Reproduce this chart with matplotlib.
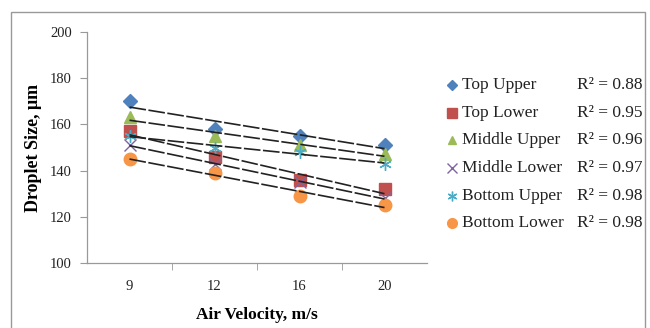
import numpy as np
import matplotlib
matplotlib.use("Agg")
import matplotlib.pyplot as plt
from matplotlib.patches import Rectangle

categories = ["9", "12", "16", "20"]
series_names = ["Top Upper", "Top Lower", "Middle Upper", "Middle Lower", "Bottom Upper", "Bottom Lower"]
top_upper = [170, 158, 155, 151]
top_lower = [157, 146, 136, 132]
middle_upper = [163, 155, 151, 147]
middle_lower = [151, 143, 135, 128]
bottom_upper = [155, 150, 148, 143]
bottom_lower = [145, 139, 129, 125]
r2_labels = ["R² = 0.88", "R² = 0.95", "R² = 0.96", "R² = 0.97", "R² = 0.98", "R² = 0.98"]

series = [top_upper, top_lower, middle_upper, middle_lower, bottom_upper, bottom_lower]
colors = ["#4F81BD", "#C0504D", "#9BBB59", "#8064A2", "#4BACC6", "#F79646"]
markers = ["D", "s", "^", "x", (6, 2, 0), "o"]
msizes = [7, 9, 8, 9, 9, 9]
leg_sizes = [5, 7, 6, 7, 7, 7]

plt.rcParams['font.family'] = ['Liberation Serif', 'DejaVu Serif']

W, H = 650, 328
fig = plt.figure(figsize=(W/100, H/100), dpi=100)
ax = fig.add_axes([87/W, 1-263/H, (427-87)/W, (263-32)/H])

x = np.arange(1, len(categories)+1)
for vals, c, m, ms in zip(series, colors, markers, msizes):
    ax.plot(x, vals, linestyle='none', marker=m, color=c, markersize=ms,
            markeredgecolor=c, markeredgewidth=1.0, zorder=3)
    k, b = np.polyfit(x, vals, 1)
    ax.plot([x[0], x[-1]], [k*x[0]+b, k*x[-1]+b], color='#222222', lw=1.2,
            linestyle=(0, (10, 1.5)), zorder=4)

ax.set_xlim(0.5, 4.5)
ax.set_ylim(100, 200)
ax.set_yticks(range(100, 201, 20))
ax.set_xticks(x)
ax.set_xticklabels(categories)
ax.set_xticks([1.5, 2.5, 3.5], minor=True)
ax.tick_params(axis='x', which='major', length=0, labelsize=10.5, pad=12, labelcolor='#222222')
ax.tick_params(axis='x', which='minor', length=5, color='#999999', direction='out')
ax.tick_params(axis='y', length=5, color='#999999', labelsize=10.5, labelcolor='#222222', pad=6)
for s in ['top', 'right']:
    ax.spines[s].set_visible(False)
for s in ['left', 'bottom']:
    ax.spines[s].set_color('#999999')
    ax.spines[s].set_linewidth(0.9)

ax.set_ylabel("Droplet Size, μm", fontsize=13, fontweight='bold', labelpad=6)
ax.set_xlabel("Air Velocity, m/s", fontsize=12.5, fontweight='bold', labelpad=10)

# legend drawn row by row
rows_y = [85, 113, 140, 168, 196, 223]
for yy, name, c, m, ls, t in zip(rows_y, series_names, colors, markers, leg_sizes, r2_labels):
    fy = 1 - yy/H
    fig.add_artist(plt.Line2D([452/W], [fy], transform=fig.transFigure, linestyle='none',
                              marker=m, color=c, markersize=ls, markeredgecolor=c, markeredgewidth=1.0))
    fig.text(462/W, fy, name, fontsize=12.5, va='center', ha='left', color='#222222')
    fig.text(577/W, fy, t, fontsize=12.5, va='center', ha='left', color='#222222')

fig.patches.append(Rectangle((11/W, -0.05), (645-11)/W, 1.05-12/H, transform=fig.transFigure,
                             fill=False, edgecolor='#999999', lw=1.0))

fig.savefig("out.png", dpi=100)
